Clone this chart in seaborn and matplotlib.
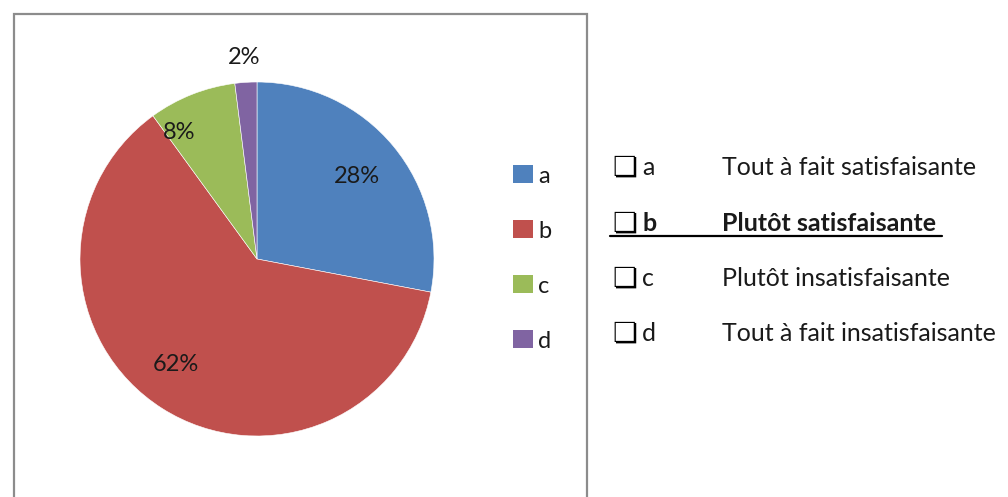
import matplotlib
matplotlib.use("Agg")
import matplotlib.pyplot as plt
from matplotlib.patches import Rectangle
from matplotlib.lines import Line2D
import numpy as np
import seaborn as sns

# Survey answers
categories = ["a", "b", "c", "d"]
shares = [28, 62, 8, 2]
answer_labels = [
    "Tout à fait satisfaisante",
    "Plutôt satisfaisante",
    "Plutôt insatisfaisante",
    "Tout à fait insatisfaisante",
]
chosen = "b"

sns.set_style("white")
plt.rcParams["font.family"] = ["Lato", "DejaVu Sans"]

colors = ["#4F81BD", "#C0504D", "#9BBB59", "#8064A2"]

W, H = 1008, 497
fig = plt.figure(figsize=(W / 100, H / 100), dpi=100)


def fx(px):
    return px / W


def fy(py):
    return 1 - py / H


# chart frame
fig.patches.append(Rectangle((fx(14), fy(520)), fx(587) - fx(14), fy(14) - fy(520),
                             transform=fig.transFigure, fill=False,
                             edgecolor="#8c8c8c", linewidth=1.6))

# pie axes
cx, cy, r = 257, 259, 177
ax = fig.add_axes([fx(cx - r), fy(cy + r), 2 * r / W, 2 * r / H])
wedges, _ = ax.pie(shares, colors=colors, startangle=90, counterclock=False,
                   wedgeprops=dict(edgecolor="white", linewidth=0.4))
ax.set_xlim(-1, 1)
ax.set_ylim(-1, 1)
ax.set_aspect("equal")
ax.axis("off")

# percentage labels: radial distance and angular nudge per slice
label_dist = [0.73, 0.75, 0.84, 1.14]
label_nudge = [0, -5, 10, 0]
for w, v, d, n in zip(wedges, shares, label_dist, label_nudge):
    ang = np.deg2rad((w.theta1 + w.theta2) / 2 + n)
    ax.text(d * np.cos(ang), d * np.sin(ang), f"{v}%", ha="center", va="center",
            fontsize=17, color="#1a1a1a", clip_on=False)

# chart legend
leg_base = [183, 238, 293, 348]
for cat, col, y in zip(categories, colors, leg_base):
    fig.patches.append(Rectangle((fx(513), fy(y)), 20 / W, 18 / H,
                                 transform=fig.transFigure, facecolor=col,
                                 edgecolor="none"))
    fig.text(fx(538), fy(y), cat, ha="left", va="baseline", fontsize=17,
             color="#1a1a1a")

# questionnaire answers beside the chart
row_base = [175, 231, 286, 341]
for cat, text, y in zip(categories, answer_labels, row_base):
    bold = cat == chosen
    fig.text(fx(612), fy(y + 1), "\u274F", ha="left", va="baseline", fontsize=20,
             family="DejaVu Sans", fontweight="bold", color="black")
    fig.text(fx(642), fy(y), cat, ha="left", va="baseline", fontsize=18,
             fontweight="bold" if bold else "normal", color="#1a1a1a")
    fig.text(fx(722), fy(y), text, ha="left", va="baseline", fontsize=18,
             fontweight="bold" if bold else "normal", color="#1a1a1a")
    if bold:
        fig.add_artist(Line2D([fx(610), fx(942)], [fy(y + 5), fy(y + 5)],
                              transform=fig.transFigure, color="black",
                              linewidth=1.6))

fig.savefig("out.png", dpi=100, facecolor="white")
